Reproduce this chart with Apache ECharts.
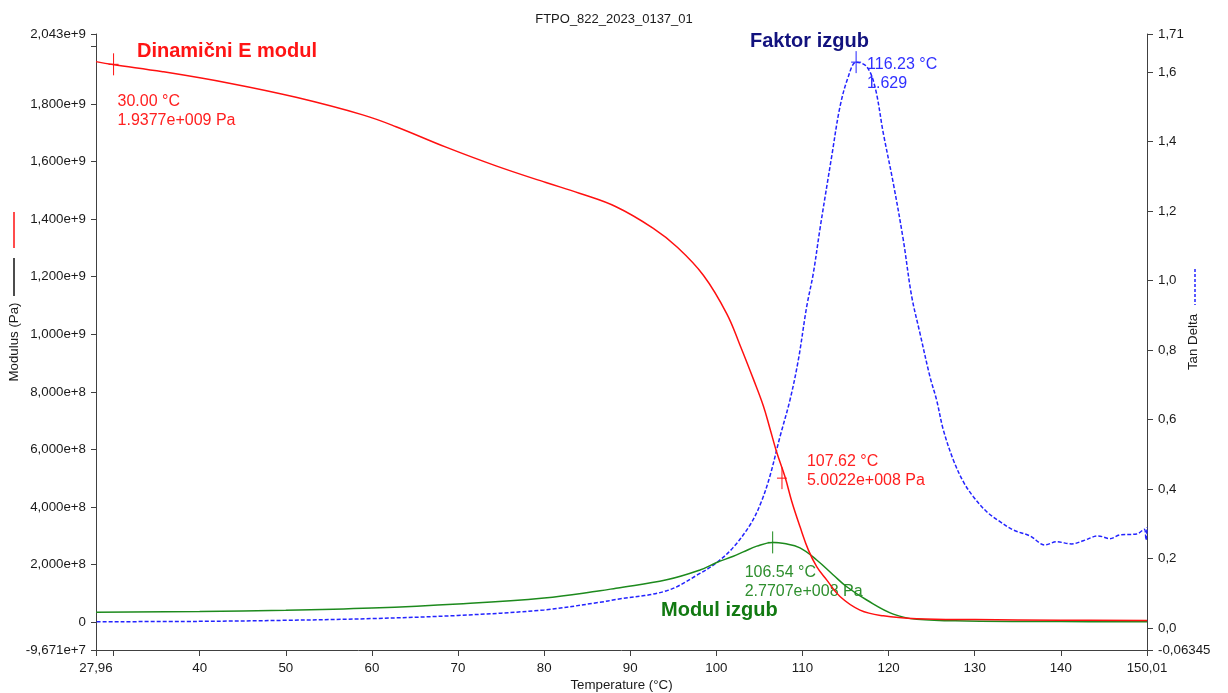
<!DOCTYPE html>
<html><head><meta charset="utf-8">
<script src="https://cdn.jsdelivr.net/npm/echarts@6/dist/echarts.min.js"></script>
<style>html,body{margin:0;padding:0;background:#fff}#c{width:1228px;height:693px}</style>
</head><body><div id="c"></div>
<script>
// ---- data ----
const chartTitle = 'FTPO_822_2023_0137_01';

// Dynamic (storage) modulus E' [Pa]
const tempStorage = [27.96, 29.90, 35.71, 43.44, 51.19, 58.93, 62.80, 68.60, 74.41, 80.21, 84.09, 88.35, 92.68, 95.40, 98.49, 101.20, 102.75, 104.29, 105.45, 106.23, 107.01, 107.97, 108.75, 109.71, 110.68, 111.65, 112.81, 114.36, 116.68, 119.39, 123.27, 130, 140, 150.01];
const storageModulus = [1947e6, 1937e6, 1912e6, 1872e6, 1823e6, 1762e6, 1721e6, 1650e6, 1585e6, 1527e6, 1490e6, 1443e6, 1368e6, 1304e6, 1205e6, 1072e6, 962e6, 845e6, 752e6, 672e6, 590e6, 505e6, 420e6, 332e6, 251e6, 193e6, 147e6, 89e6, 42e6, 22e6, 12e6, 9e6, 7e6, 6e6];

// Loss modulus E'' [Pa]
const tempLoss = [27.96, 40, 50, 60, 70, 80, 86.49, 88.35, 94.23, 98.10, 100.04, 101.97, 103.13, 104.7, 106.54, 107.9, 109.71, 111.65, 113.58, 115.14, 117.46, 120.55, 123.27, 129.07, 140, 150.01];
const lossModulus = [34e6, 37e6, 41e6, 49e6, 63e6, 84e6, 109e6, 118e6, 147e6, 181e6, 207e6, 229e6, 244e6, 264e6, 277e6, 273e6, 258e6, 216e6, 164e6, 123e6, 77e6, 28e6, 10e6, 4e6, 2e6, 1e6];

// Tan delta
const tempTan = [28.04, 40, 50, 60, 70, 80, 86.49, 88.35, 94.23, 98.10, 100.04, 101.97, 104.0, 105.2, 106.2, 107.39, 108.55, 109.52, 110.49, 111.26, 112.04, 113.39, 114.36, 115.32, 116.23, 117.46, 118.42, 119.39, 120.55, 121.71, 122.68, 123.65, 124.81, 125.58, 126.36, 127.52, 128.68, 129.84, 131.39, 132.94, 134.48, 136.42, 138.16, 139.52, 141.26, 142.61, 144.35, 145.71, 146.87, 148.81, 149.69, 149.89, 150.01];
const tanDelta = [0.018, 0.019, 0.022, 0.027, 0.036, 0.052, 0.074, 0.082, 0.107, 0.157, 0.188, 0.232, 0.30, 0.362, 0.4355, 0.5506, 0.6563, 0.7715, 0.9249, 1.021, 1.15, 1.357, 1.501, 1.587, 1.629, 1.616, 1.558, 1.424, 1.280, 1.117, 0.955, 0.848, 0.723, 0.656, 0.570, 0.4836, 0.421, 0.378, 0.3347, 0.306, 0.282, 0.265, 0.239, 0.248, 0.242, 0.251, 0.265, 0.257, 0.268, 0.2705, 0.284, 0.253, 0.29];

// Axis ticks
const xTickValues = [27.96, 30, 40, 50, 60, 70, 80, 90, 100, 110, 120, 130, 140, 150.01];
const xTickLabels = ['27,96', '', '40', '50', '60', '70', '80', '90', '100', '110', '120', '130', '140', '150,01'];
const leftTickValues = [-9.671e7, 0, 2e8, 4e8, 6e8, 8e8, 1e9, 1.2e9, 1.4e9, 1.6e9, 1.8e9, 2e9, 2.043e9];
const leftTickLabels = ['-9,671e+7', '0', '2,000e+8', '4,000e+8', '6,000e+8', '8,000e+8', '1,000e+9', '1,200e+9', '1,400e+9', '1,600e+9', '1,800e+9', '', '2,043e+9'];
const rightTickValues = [-0.06345, 0, 0.2, 0.4, 0.6, 0.8, 1.0, 1.2, 1.4, 1.6, 1.71];
const rightTickLabels = ['-0,06345', '0,0', '0,2', '0,4', '0,6', '0,8', '1,0', '1,2', '1,4', '1,6', '1,71'];

// Annotated points
const storagePoint1 = [30.00, 1.9377e9];
const storagePoint2 = [107.62, 5.0022e8];
const lossPeak = [106.54, 2.7707e8];
const tanPeak = [116.23, 1.629];
const storageText1 = '30.00 °C\n1.9377e+009 Pa';
const storageText2 = '107.62 °C\n5.0022e+008 Pa';
const lossText = '106.54 °C\n2.7707e+008 Pa';
const tanText = '116.23 °C\n1.629';

// ---- chart ----
const FONT = "'Liberation Sans', Arial, sans-serif";
const AX = '#404040', TXT = '#1a1a1a', FS = 13.3;
const RED = '#ff1010', GREEN = '#1d8a1d', BLUE = '#2323ff';
const zip = (a, b) => a.map((v, i) => [v, b[i]]);
const labelFor = (vals, labs) => (v) => {
  const span = Math.abs(vals[vals.length - 1] - vals[0]);
  const i = vals.findIndex(t => Math.abs(t - v) < span * 1e-6);
  return i >= 0 ? labs[i] : '';
};

const chart = echarts.init(document.getElementById('c'));
const axisBase = (ticks, labs, tickLen, margin) => ({
  axisLine: { show: true, onZero: false, lineStyle: { color: AX, width: 1 } },
  axisTick: { show: true, length: tickLen, customValues: ticks, lineStyle: { color: AX } },
  axisLabel: { customValues: ticks, formatter: labelFor(ticks, labs), margin: margin,
    color: TXT, fontSize: FS, fontFamily: FONT },
  splitLine: { show: false },
  nameMoveOverlap: false,
  nameTextStyle: { color: TXT, fontSize: FS, fontFamily: FONT }
});

chart.setOption({
  animation: false,
  backgroundColor: '#fff',
  title: { text: chartTitle, left: 'center', top: 8,
    textStyle: { fontSize: 13, fontWeight: 'normal', color: TXT, fontFamily: FONT } },
  grid: { left: 96, right: 81, top: 34, bottom: 43, containLabel: false, outerBoundsMode: 'none' },
  xAxis: Object.assign(axisBase(xTickValues, xTickLabels, 6, 12), {
    type: 'value', min: 27.96, max: 150.01,
    name: 'Temperature (°C)', nameLocation: 'middle', nameGap: 29
  }),
  yAxis: [
    Object.assign(axisBase(leftTickValues, leftTickLabels, 5, 10), {
      type: 'value', position: 'left', min: -9.671e7, max: 2.043e9,
      name: 'Modulus (Pa)', nameLocation: 'middle', nameRotate: 90, nameGap: 75
    }),
    Object.assign(axisBase(rightTickValues, rightTickLabels, 6, 11), {
      type: 'value', position: 'right', min: -0.06345, max: 1.71,
      name: 'Tan Delta', nameLocation: 'middle', nameRotate: 90, nameGap: 40
    })
  ],
  series: [
    { name: 'Tan Delta', type: 'line', yAxisIndex: 1, data: zip(tempTan, tanDelta),
      showSymbol: false, smooth: 0.35, z: 2,
      lineStyle: { color: BLUE, width: 1.5, type: [4, 2] } },
    { name: 'Loss modulus', type: 'line', yAxisIndex: 0, data: zip(tempLoss, lossModulus),
      showSymbol: false, smooth: 0.4, z: 3,
      lineStyle: { color: GREEN, width: 1.5 } },
    { name: 'Storage modulus', type: 'line', yAxisIndex: 0, data: zip(tempStorage, storageModulus),
      showSymbol: false, smooth: 0.4, z: 4,
      lineStyle: { color: RED, width: 1.5 } }
  ]
});

// markers with labels, placed through the chart's own scales
function marker(pt, axisIdx, color, textColor, text, dx, dy) {
  const p = chart.convertToPixel({ xAxisIndex: 0, yAxisIndex: axisIdx }, pt);
  return { type: 'group', x: p[0], y: p[1], silent: true, z: 100, children: [
    { type: 'line', shape: { x1: 0, y1: -11, x2: 0, y2: 11 }, style: { stroke: color, lineWidth: 1 } },
    { type: 'line', shape: { x1: -5, y1: 0, x2: 5, y2: 0 }, style: { stroke: color, lineWidth: 1 } },
    { type: 'text', x: dx, y: dy, style: { text: text, fill: textColor, font: "16px 'Liberation Sans', Arial",
        lineHeight: 19, align: 'left', verticalAlign: 'top' } }
  ] };
}
const bold = "bold 20px 'Liberation Sans', Arial";
chart.setOption({
  graphic: [
    marker(storagePoint1, 0, RED, '#ff2020', storageText1, 4, 28),
    marker(storagePoint2, 0, RED, '#ff2020', storageText2, 25, -26),
    marker(lossPeak, 0, GREEN, '#2f8f2f', lossText, -28, 21),
    marker(tanPeak, 1, BLUE, '#3030ff', tanText, 11, -7),
    { type: 'text', left: 137, top: 41, silent: true, style: { text: 'Dinamični E modul', fill: '#ff1414', font: bold } },
    { type: 'text', left: 750, top: 31, silent: true, style: { text: 'Faktor izgub', fill: '#12127e', font: bold } },
    { type: 'text', left: 661, top: 600, silent: true, style: { text: 'Modul izgub', fill: '#127a12', font: bold } },
    { type: 'line', silent: true, shape: { x1: 14, y1: 212, x2: 14, y2: 248 }, style: { stroke: RED, lineWidth: 1.5 } },
    { type: 'line', silent: true, shape: { x1: 14, y1: 258, x2: 14, y2: 296 }, style: { stroke: '#111', lineWidth: 1.5 } },
    { type: 'line', silent: true, shape: { x1: 1195, y1: 269, x2: 1195, y2: 305 }, style: { stroke: BLUE, lineWidth: 1.5, lineDash: [3, 2] } }
  ]
});
</script>
</body></html>
